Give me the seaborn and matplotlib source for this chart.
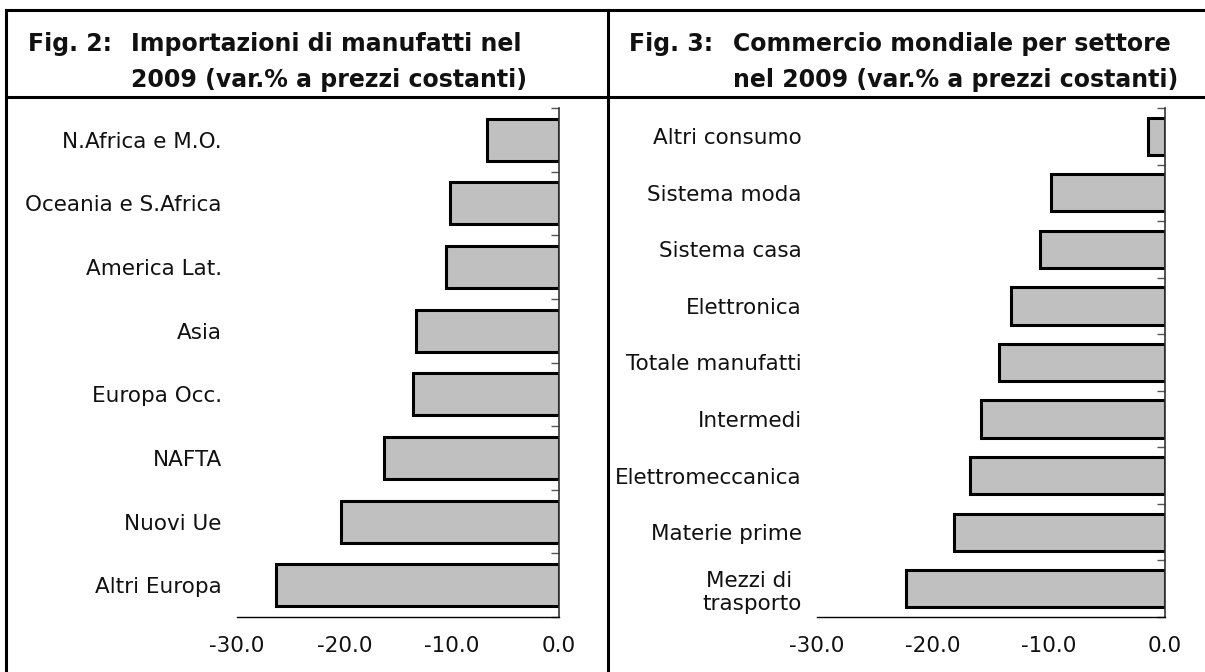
import matplotlib
matplotlib.use("Agg")
import matplotlib.pyplot as plt
from matplotlib.lines import Line2D
from matplotlib.ticker import FixedLocator
import numpy as np
import pandas as pd
import seaborn as sns

# Fig. 2 - importazioni di manufatti 2009
aree = ["N.Africa e M.O.", "Oceania e S.Africa", "America Lat.", "Asia",
        "Europa Occ.", "NAFTA", "Nuovi Ue", "Altri Europa"]
var_aree = [-6.7, -10.2, -10.5, -13.3, -13.6, -16.3, -20.3, -26.4]

# Fig. 3 - commercio mondiale per settore 2009
settori = ["Altri consumo", "Sistema moda", "Sistema casa", "Elettronica",
           "Totale manufatti", "Intermedi", "Elettromeccanica", "Materie prime",
           "Mezzi di \ntrasporto"]
var_settori = [-1.5, -9.8, -10.8, -13.3, -14.3, -15.9, -16.8, -18.2, -22.3]

x_ticks = [-30.0, -20.0, -10.0, 0.0]

titolo2 = ("Fig. 2:", "Importazioni di manufatti nel\n2009 (var.% a prezzi costanti)")
titolo3 = ("Fig. 3:", "Commercio mondiale per settore\nnel 2009 (var.% a prezzi costanti)")

sns.set_theme(style="white")
plt.rcParams['font.family'] = ['DejaVu Sans']

W, H = 1205, 672
fig = plt.figure(figsize=(W / 100, H / 100), dpi=100)


def px_box(x0, y0, x1, y1):
    # pixel (from top-left) -> figure fraction [l, b, w, h]
    return [x0 / W, 1 - y1 / H, (x1 - x0) / W, (y1 - y0) / H]


def line(x0, y0, x1, y1, lw=2.2):
    fig.add_artist(Line2D([x0 / W, x1 / W], [1 - y0 / H, 1 - y1 / H],
                          color="black", lw=lw, solid_capstyle="projecting"))


def pannello(rect, cats, vals):
    ax = fig.add_axes(rect)
    df = pd.DataFrame({"cat": cats, "val": vals})
    sns.barplot(data=df, y="cat", x="val", orient="h", order=cats,
                color="#c0c0c0", saturation=1, width=0.66,
                edgecolor="black", linewidth=2.2, ax=ax)
    ax.set_xlim(-30, 0)
    ax.set_ylim(len(cats) - 0.5, -0.5)
    ax.set_xlabel("")
    ax.set_ylabel("")
    ax.xaxis.set_major_locator(FixedLocator(x_ticks))
    ax.set_xticklabels([f"{v:.1f}" for v in x_ticks], fontsize=15.5, color="#111111")
    ax.tick_params(axis="x", direction="out", length=6, width=1, color="black", pad=8)
    ax.tick_params(axis="y", which="major", length=0, pad=11, labelsize=15.5,
                   labelcolor="#111111")
    for lab in ax.get_yticklabels():
        lab.set_multialignment("center")
    ax.yaxis.set_minor_locator(FixedLocator(np.arange(len(cats) + 1) - 0.5))
    ax.tick_params(axis="y", which="minor", left=False, right=True,
                   direction="in", length=6, width=1, color="#555555")
    for s in ["top", "left"]:
        ax.spines[s].set_visible(False)
    ax.spines["right"].set_color("#333333")
    ax.spines["right"].set_linewidth(1.2)
    ax.spines["bottom"].set_color("black")
    ax.spines["bottom"].set_linewidth(1)
    ax.patch.set_alpha(0)
    return ax


pannello(px_box(237, 108, 559, 617), aree, var_aree)
pannello(px_box(817, 108, 1165, 617), settori, var_settori)

# cornice e intestazioni
div = 608
line(6, 10, W + 5, 10)
line(6, 97, W + 5, 97)
line(6, 10, 6, H + 5)
line(div, 10, div, H + 5)

for x0, x1, (fig_lab, testo) in [(28, 131, titolo2), (div + 21, 733, titolo3)]:
    fig.text(x0 / W, 1 - 62 / H, fig_lab + "\n ", fontsize=17, fontweight="bold",
             ha="left", va="center", linespacing=1.65, color="#111111")
    fig.text(x1 / W, 1 - 62 / H, testo, fontsize=17, fontweight="bold",
             ha="left", va="center", linespacing=1.65, color="#111111")

fig.savefig("out.png", dpi=100)
